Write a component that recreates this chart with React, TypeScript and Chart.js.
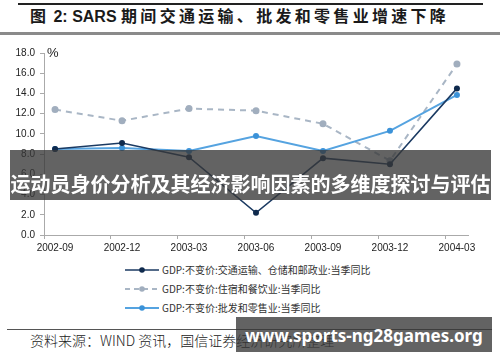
import React, { useEffect, useRef } from "react";
import { Chart, registerables } from "chart.js";

Chart.register(...registerables);

const categories = ["2002-09", "2002-12", "2003-03", "2003-06", "2003-09", "2003-12", "2004-03"];
const transport = [8.5, 9.1, 7.7, 2.2, 7.6, 7.0, 14.5];
const hospitality = [12.4, 11.3, 12.5, 12.3, 11.0, 7.35, 16.9];
const wholesale = [8.5, 8.6, 8.3, 9.8, 8.3, 10.3, 13.85];
const seriesNames = [
  "GDP:不变价:交通运输、仓储和邮政业:当季同比",
  "GDP:不变价:住宿和餐饮业:当季同比",
  "GDP:不变价:批发和零售业:当季同比",
];
const yMin = 0;
const yMax = 18;
const yStep = 2;

const titleText = ["图", " 2: SARS ", "期间交通运输、批发和零售业增速下降"];
const sourceText = "资料来源：WIND 资讯，国信证券经济研究所整理";
const bannerText = "运动员身价分析及其经济影响因素的多维度探讨与评估";
const watermarkText = "www.sports-ng28games.org";

const styles = [
  { color: "#1b3a62", point: "#0f2a4d", width: 1.6, dash: [] as number[], radius: 3 },
  { color: "#a9b6c5", point: "#a1aebe", width: 2, dash: [6, 5], radius: 3.5 },
  { color: "#55a3e0", point: "#3b92d8", width: 2, dash: [] as number[], radius: 3 },
];

const tickFont = { family: "'Liberation Sans', Arial, sans-serif", size: 10 };

function LegendSample({ s }: { s: (typeof styles)[number] }) {
  return (
    <svg width={34} height={8} style={{ display: "block" }}>
      <line
        x1={0}
        y1={4}
        x2={34}
        y2={4}
        stroke={s.color}
        strokeWidth={s.width}
        strokeDasharray={s.dash.length ? "5 4" : undefined}
      />
      <circle cx={17} cy={4} r={2.8} fill={s.point} />
    </svg>
  );
}

export default function App() {
  const ref = useRef<HTMLCanvasElement | null>(null);

  useEffect(() => {
    if (!ref.current) return;
    const series = [transport, hospitality, wholesale];
    const chart = new Chart(ref.current, {
      type: "line",
      data: {
        datasets: series.map((vals, k) => ({
          label: seriesNames[k],
          data: vals.map((v, i) => ({ x: i, y: v })),
          borderColor: styles[k].color,
          borderWidth: styles[k].width,
          borderDash: styles[k].dash,
          pointRadius: styles[k].radius,
          pointBackgroundColor: styles[k].point,
          pointBorderColor: styles[k].point,
          pointBorderWidth: 0,
          tension: 0,
          fill: false,
          order: k === 0 ? 0 : k === 1 ? 2 : 1,
        })),
      },
      options: {
        animation: false,
        responsive: false,
        maintainAspectRatio: false,
        layout: { padding: { top: 13, right: 32, left: 0, bottom: 0 } },
        plugins: { legend: { display: false }, tooltip: { enabled: false } },
        scales: {
          x: {
            type: "linear",
            min: -0.165,
            max: categories.length - 1 + 0.165,
            afterBuildTicks: (s: any) => {
              s.ticks = categories.map((_, i) => ({ value: i - 0.165 }));
            },
            afterFit: (s: any) => {
              s.height = 20;
            },
            ticks: {
              callback: (_v: any, i: number) => categories[i],
              labelOffset: 11,
              padding: 3,
              font: tickFont,
              color: "#222",
              maxRotation: 0,
              autoSkip: false,
            },
            grid: { drawOnChartArea: false, drawTicks: true, tickLength: 4, color: "#aaa" },
            border: { color: "#aaa", width: 1 },
          },
          y: {
            min: yMin,
            max: yMax,
            afterFit: (s: any) => {
              s.width = 44;
            },
            ticks: {
              stepSize: yStep,
              callback: (v: any) => Number(v).toFixed(1),
              padding: 5,
              font: tickFont,
              color: "#222",
            },
            grid: { drawOnChartArea: false, drawTicks: true, tickLength: 4, color: "#aaa" },
            border: { color: "#aaa", width: 1 },
          },
        },
      },
    } as any);
    return () => chart.destroy();
  }, []);

  const cjk = "'Noto Sans CJK SC', sans-serif";

  return (
    <div style={{ position: "absolute", left: 0, top: 0, width: 500, height: 362, background: "#fff", overflow: "hidden" }}>
      {/* title */}
      <div style={{ position: "absolute", left: 18, top: 3, width: 465, height: 1.5, background: "#222" }} />
      <div
        style={{
          position: "absolute",
          left: 30,
          top: 5,
          height: 20,
          lineHeight: "20px",
          fontFamily: cjk,
          fontWeight: 700,
          fontSize: 16,
          color: "#1a1a1a",
          whiteSpace: "nowrap",
        }}
      >
        <span style={{ letterSpacing: 3 }}>{titleText[0]}</span>
        <span style={{ fontFamily: "'Liberation Sans', Arial, sans-serif" }}>{titleText[1]}</span>
        <span style={{ letterSpacing: 3.3 }}>{titleText[2]}</span>
      </div>
      <div style={{ position: "absolute", left: 0, top: 32, width: 500, height: 3, background: "#8a8a8a" }} />

      {/* chart */}
      <canvas ref={ref} width={500} height={215} style={{ position: "absolute", left: 0, top: 40, width: 500, height: 215, display: "block" }} />
      <div
        style={{
          position: "absolute",
          left: 47,
          top: 45,
          fontFamily: "'Liberation Sans', Arial, sans-serif",
          fontSize: 13,
          lineHeight: "16px",
          color: "#222",
        }}
      >
        %
      </div>

      {/* legend */}
      {seriesNames.map((name, k) => (
        <div
          key={name}
          style={{ position: "absolute", left: 125, top: 264 + k * 19, height: 12, display: "flex", alignItems: "center", whiteSpace: "nowrap" }}
        >
          <LegendSample s={styles[k]} />
          <span style={{ marginLeft: 3, fontFamily: cjk, fontSize: 10, color: "#333", lineHeight: "12px" }}>{name}</span>
        </div>
      ))}

      {/* source */}
      <div style={{ position: "absolute", left: 7, top: 329, width: 485, height: 1, background: "#555" }} />
      <div
        style={{
          position: "absolute",
          left: 30,
          top: 331,
          fontFamily: cjk,
          fontWeight: 300,
          fontSize: 14,
          lineHeight: "18px",
          color: "#222",
          whiteSpace: "nowrap",
        }}
      >
        {sourceText}
      </div>

      {/* overlay banner */}
      <div style={{ position: "absolute", left: 10, top: 150, width: 481, height: 50, background: "rgba(55,55,55,0.78)" }} />
      <div
        style={{
          position: "absolute",
          left: 10,
          top: 171,
          width: 481,
          textAlign: "center",
          fontFamily: cjk,
          fontWeight: 700,
          fontSize: 20,
          lineHeight: "26px",
          color: "#fff",
          whiteSpace: "nowrap",
        }}
      >
        {bannerText}
      </div>

      {/* watermark */}
      <div style={{ position: "absolute", left: 236, top: 317, width: 256, height: 35, background: "rgba(55,55,55,0.78)" }} />
      <div
        style={{
          position: "absolute",
          left: 236,
          top: 324,
          width: 256,
          textAlign: "center",
          fontFamily: "'Noto Sans', 'Open Sans', sans-serif",
          fontWeight: 700,
          fontSize: 17,
          lineHeight: "24px",
          color: "#fff",
          whiteSpace: "nowrap",
        }}
      >
        {watermarkText}
      </div>
    </div>
  );
}
